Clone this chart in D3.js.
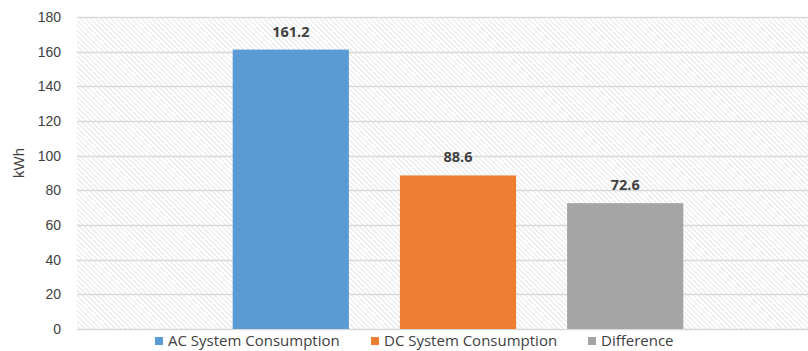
<!DOCTYPE html>
<html>
<head>
<meta charset="utf-8">
<script src="https://cdn.jsdelivr.net/npm/d3@7"></script>
<style>
  html, body { margin: 0; padding: 0; background: #fff; }
  svg { display: block; }
</style>
</head>
<body>
<svg id="chart" width="808" height="351"></svg>
<script>
const seriesNames = ["AC System Consumption", "DC System Consumption", "Difference"];
const seriesValues = [161.2, 88.6, 72.6];
const seriesColors = ["#5b9bd5", "#ed7d31", "#a5a5a5"];
const yTicks = [0, 20, 40, 60, 80, 100, 120, 140, 160, 180];
const yAxisTitle = "kWh";

const W = 808, H = 351;
const plot = { left: 77, right: 839, top: 17, bottom: 329 };

const svg = d3.select("#chart");
const defs = svg.append("defs");
const pat = defs.append("pattern")
  .attr("id", "hatch")
  .attr("patternUnits", "userSpaceOnUse")
  .attr("width", 3.6).attr("height", 3.6)
  .attr("patternTransform", "rotate(-45)");
pat.append("rect").attr("width", 3.6).attr("height", 3.6).attr("fill", "#fff");
pat.append("line").attr("x1", 0).attr("y1", 0).attr("x2", 0).attr("y2", 3.6)
  .attr("stroke", "#d6d6d6").attr("stroke-width", 1.2);

const y = d3.scaleLinear().domain([0, 180]).range([plot.bottom, plot.top]);
const x = d3.scaleBand().domain(seriesNames).range([232.7, 683.3]).paddingInner(0.305).paddingOuter(0);

// hatched plot background
svg.append("rect")
  .attr("x", plot.left).attr("y", plot.top)
  .attr("width", plot.right - plot.left).attr("height", plot.bottom - plot.top)
  .attr("fill", "url(#hatch)");

// gridlines
svg.append("g").selectAll("line").data(yTicks).join("line")
  .attr("x1", plot.left).attr("x2", W)
  .attr("y1", d => Math.round(y(d)) + 0.5).attr("y2", d => Math.round(y(d)) + 0.5)
  .attr("stroke", "#d9d9d9").attr("stroke-width", 1.6);

// y axis labels
const yAxis = d3.axisLeft(y).tickValues(yTicks).tickSize(0).tickPadding(0);
const gy = svg.append("g").attr("transform", `translate(61,0)`).call(yAxis);
gy.select(".domain").remove();
gy.selectAll("text")
  .attr("font-family", "Liberation Sans, Arial, sans-serif")
  .attr("font-size", 14).attr("fill", "#404040");

// axis title
svg.append("text")
  .attr("transform", `translate(24,163) rotate(-90)`)
  .attr("text-anchor", "middle")
  .attr("font-family", "Liberation Sans, Arial, sans-serif")
  .attr("font-size", 15).attr("fill", "#404040")
  .text(yAxisTitle);

// bars
const data = seriesNames.map((n, i) => ({ name: n, value: seriesValues[i], color: seriesColors[i] }));
svg.append("g").selectAll("rect").data(data).join("rect")
  .attr("x", d => x(d.name)).attr("width", x.bandwidth())
  .attr("y", d => y(d.value)).attr("height", d => y(0) - y(d.value))
  .attr("fill", d => d.color);

// value labels
svg.append("g").selectAll("text").data(data).join("text")
  .attr("x", d => x(d.name) + x.bandwidth() / 2)
  .attr("y", d => y(d.value) - 13)
  .attr("text-anchor", "middle")
  .attr("font-family", "Open Sans, sans-serif")
  .attr("font-weight", "bold")
  .attr("font-size", 14.5).attr("fill", "#404040")
  .text(d => d.value.toFixed(1));

// legend
const legendX = [155, 371, 588];
const lg = svg.append("g").selectAll("g").data(data).join("g")
  .attr("transform", (d, i) => `translate(${legendX[i]},341)`);
lg.append("rect").attr("x", 0).attr("y", -4).attr("width", 8).attr("height", 8)
  .attr("fill", d => d.color);
lg.append("text").attr("x", 13).attr("y", 0).attr("dy", "0.35em")
  .attr("font-family", "Open Sans, sans-serif")
  .attr("font-size", 15).attr("fill", "#404040")
  .text(d => d.name);
</script>
</body>
</html>
